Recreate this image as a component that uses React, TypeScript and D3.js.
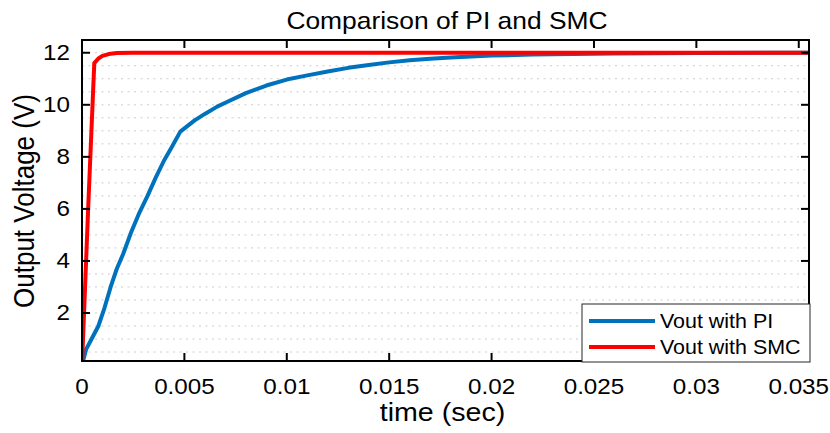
import React from "react";
import * as d3 from "d3";

const piTime = [0, 0.0002, 0.0005, 0.0008, 0.0011, 0.0014, 0.0017, 0.002, 0.0024, 0.0028, 0.0032, 0.0036, 0.004, 0.0044, 0.0048, 0.0055, 0.006, 0.0066, 0.007, 0.008, 0.009, 0.01, 0.011, 0.012, 0.013, 0.014, 0.015, 0.016, 0.017, 0.018, 0.019, 0.02, 0.022, 0.024, 0.026, 0.028, 0.03, 0.0355];
const piVout = [0, 0.6, 1.05, 1.5, 2.2, 3.0, 3.7, 4.25, 5.1, 5.85, 6.5, 7.2, 7.85, 8.4, 8.97, 9.4, 9.65, 9.93, 10.08, 10.45, 10.74, 10.97, 11.13, 11.28, 11.42, 11.53, 11.63, 11.71, 11.77, 11.82, 11.86, 11.89, 11.93, 11.955, 11.97, 11.98, 11.99, 12.0];

const smcTime = [0, 0.0003, 0.0006, 0.0008, 0.001, 0.0013, 0.0017, 0.0025, 0.0355];
const smcVout = [0, 6.0, 11.6, 11.78, 11.88, 11.95, 11.99, 12.0, 12.0];

const xTicks = [0, 0.005, 0.01, 0.015, 0.02, 0.025, 0.03, 0.035];
const xTickLabels = ["0", "0.005", "0.01", "0.015", "0.02", "0.025", "0.03", "0.035"];
const yTicks = [2, 4, 6, 8, 10, 12];
const yGrid = d3.range(1, 25).map((i) => i * 0.5);

const title = "Comparison of PI and SMC";
const xLabel = "time (sec)";
const yLabel = "Output Voltage (V)";
const seriesNames = ["Vout with PI", "Vout with SMC"];
const seriesColors = ["#0072BD", "#FF0000"];

const W = 830;
const H = 433;
const L = 82, R = 809, T = 40, B = 361;
const SX = 1.1;
const FONT = "'Liberation Sans', Arial, Helvetica, sans-serif";

export default function App() {
  const x = d3.scaleLinear().domain([0, 0.0355]).range([L, R]);
  const y = d3.scaleLinear().domain([0.155, 12.49]).range([B, T]);
  const line = d3
    .line<[number, number]>()
    .x((d) => x(d[0]))
    .y((d) => y(d[1]));
  const piData = piTime.map((t, i) => [t, piVout[i]] as [number, number]);
  const smcData = smcTime.map((t, i) => [t, smcVout[i]] as [number, number]);
  const tickLen = 8;

  return (
    <svg width={W} height={H} style={{ position: "absolute", left: 0, top: 0, background: "#fff" }} fontFamily={FONT}>
      <defs>
        <clipPath id="plotclip">
          <rect x={L} y={T} width={R - L} height={B - T} />
        </clipPath>
      </defs>
      <rect x={0} y={0} width={W} height={H} fill="#fff" />
      {/* grid */}
      {yGrid.map((v, i) => (
        <line key={"g" + i} x1={L} x2={R} y1={y(v)} y2={y(v)} stroke="#cdcdcd" strokeWidth={1} strokeDasharray="2,4.5" />
      ))}
      {/* lines */}
      <g clipPath="url(#plotclip)">
        <path d={line(piData) || ""} fill="none" stroke={seriesColors[0]} strokeWidth={4} strokeLinejoin="round" />
        <path d={line(smcData) || ""} fill="none" stroke={seriesColors[1]} strokeWidth={4} strokeLinejoin="round" />
      </g>
      {/* box */}
      <rect x={L} y={T} width={R - L} height={B - T} fill="none" stroke="#000" strokeWidth={2} />
      {/* x ticks */}
      {xTicks.map((v, i) => (
        <g key={"xt" + i}>
          <line x1={x(v)} x2={x(v)} y1={B} y2={B - tickLen} stroke="#000" strokeWidth={2} />
          <line x1={x(v)} x2={x(v)} y1={T} y2={T + tickLen} stroke="#000" strokeWidth={2} />
          <text transform={`translate(${x(v)},394) scale(${SX},1)`} textAnchor="middle" fontSize={22} fill="#000">
            {xTickLabels[i]}
          </text>
        </g>
      ))}
      {/* y ticks */}
      {yTicks.map((v, i) => (
        <g key={"yt" + i}>
          <line x1={L} x2={L + tickLen} y1={y(v)} y2={y(v)} stroke="#000" strokeWidth={2} />
          <line x1={R} x2={R - tickLen} y1={y(v)} y2={y(v)} stroke="#000" strokeWidth={2} />
          <text transform={`translate(70,${y(v) + 7.5}) scale(${SX},1)`} textAnchor="end" fontSize={22} fill="#000">
            {String(v)}
          </text>
        </g>
      ))}
      {/* title */}
      <text transform={`translate(447,29) scale(${SX},1)`} textAnchor="middle" fontSize={24} fill="#000">
        {title}
      </text>
      {/* x label */}
      <text transform={`translate(${(L + R) / 2 - 3},421) scale(${SX},1)`} textAnchor="middle" fontSize={26} fill="#000">
        {xLabel}
      </text>
      {/* y label */}
      <text transform={`translate(34,201) scale(${SX},1) rotate(-90)`} textAnchor="middle" fontSize={26} fill="#000">
        {yLabel}
      </text>
      {/* legend */}
      <rect x={582} y={304} width={228} height={58} fill="#fff" stroke="#262626" strokeWidth={1} />
      {seriesNames.map((n, i) => (
        <g key={"lg" + i}>
          <line x1={589} x2={655} y1={321 + i * 26} y2={321 + i * 26} stroke={seriesColors[i]} strokeWidth={4} />
          <text transform={`translate(660,${328 + i * 26}) scale(${SX},1)`} fontSize={19.5} fill="#000">
            {n}
          </text>
        </g>
      ))}
    </svg>
  );
}
